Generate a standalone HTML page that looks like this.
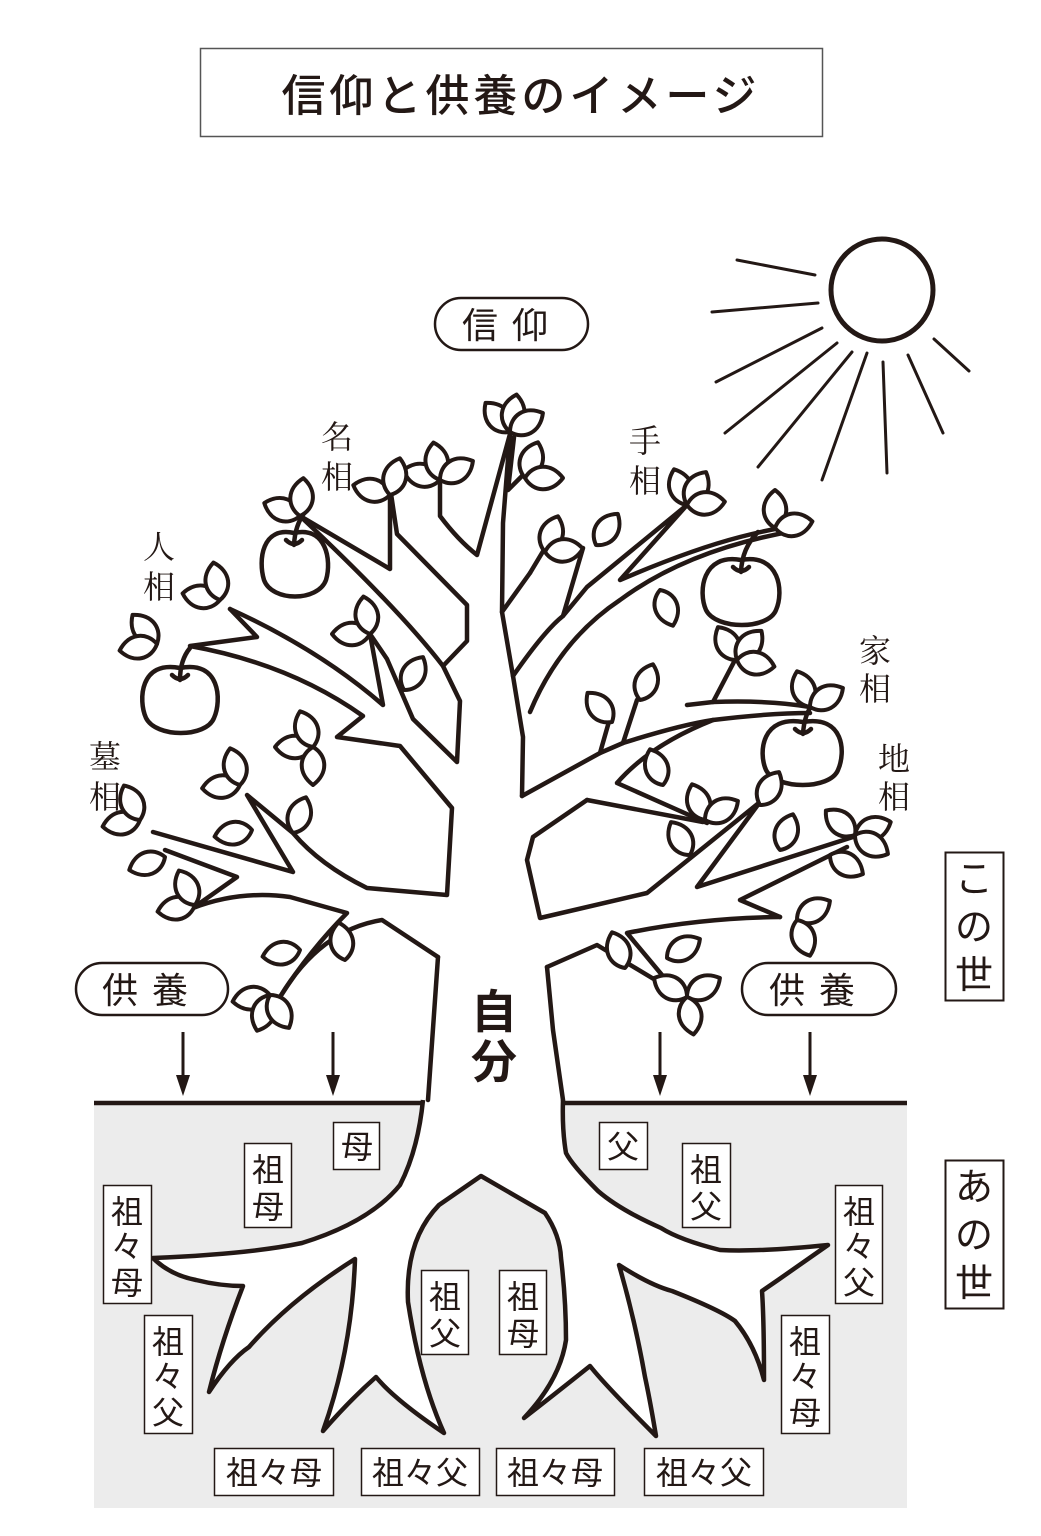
<!DOCTYPE html>
<html><head><meta charset="utf-8"><style>
html,body{margin:0;padding:0;background:#fff;}
svg{display:block;}
text{font-family:"Liberation Sans","Noto Sans CJK JP",sans-serif;fill:#231815;}
.s{font-family:"Liberation Serif","Noto Serif CJK SC",serif;}
</style></head><body>
<svg width="1041" height="1536" viewBox="0 0 1041 1536" xmlns="http://www.w3.org/2000/svg">
<defs>
<path id="lf" d="M0,0 C14,-8 16,-26 0,-38 C-16,-26 -14,-8 0,0Z" fill="#fff" stroke="#231815" stroke-width="4" stroke-linejoin="round"/>
</defs>
<rect x="200.5" y="48.5" width="622" height="88" fill="#fff" stroke="#555" stroke-width="1.5"/>
<text x="521" y="111" font-size="44" text-anchor="middle" letter-spacing="4" font-weight="500">信仰と供養のイメージ</text>

<g stroke="#231815" stroke-width="3" stroke-linecap="round" fill="none">
<circle cx="882" cy="290" r="51" stroke-width="5"/>
<line x1="737" y1="260" x2="815" y2="275"/>
<line x1="712" y1="312" x2="818" y2="303"/>
<line x1="716" y1="382" x2="822" y2="328"/>
<line x1="725" y1="433" x2="837" y2="343"/>
<line x1="758" y1="467" x2="852" y2="352"/>
<line x1="822" y1="480" x2="867" y2="353"/>
<line x1="887" y1="473" x2="883" y2="362"/>
<line x1="943" y1="433" x2="908" y2="355"/>
<line x1="969" y1="371" x2="934" y2="339"/>
</g>

<rect x="435" y="298" width="153" height="52" rx="26" fill="#fff" stroke="#231815" stroke-width="2.5"/>
<text x="512" y="338" font-size="36" text-anchor="middle" letter-spacing="14">信仰</text>

<g class="s" font-size="32" text-anchor="middle">
<text class="s" x="337" y="448">名</text><text class="s" x="337" y="488">相</text>
<text class="s" x="645" y="452">手</text><text class="s" x="645" y="492">相</text>
<text class="s" x="159" y="558">人</text><text class="s" x="159" y="598">相</text>
<text class="s" x="875" y="662">家</text><text class="s" x="875" y="700">相</text>
<text class="s" x="894" y="770">地</text><text class="s" x="894" y="808">相</text>
<text class="s" x="105" y="768">墓</text><text class="s" x="105" y="808">相</text>
</g>

<rect x="945.5" y="852.5" width="58" height="148" fill="#fff" stroke="#231815" stroke-width="2"/>
<text x="974" y="892" font-size="38" text-anchor="middle">こ</text>
<text x="974" y="940" font-size="38" text-anchor="middle">の</text>
<text x="974" y="988" font-size="38" text-anchor="middle">世</text>

<rect x="94" y="1103" width="813" height="405" fill="#ececec"/>
<rect x="945.5" y="1160.5" width="58" height="148" fill="#fff" stroke="#231815" stroke-width="2"/>
<text x="974" y="1200" font-size="38" text-anchor="middle">あ</text>
<text x="974" y="1248" font-size="38" text-anchor="middle">の</text>
<text x="974" y="1296" font-size="38" text-anchor="middle">世</text>

<line x1="94" y1="1103" x2="425" y2="1103" stroke="#231815" stroke-width="4.5"/>
<line x1="562" y1="1103" x2="907" y2="1103" stroke="#231815" stroke-width="4.5"/>

<path d="M423,1100 Q418,1150 400,1185 Q370,1222 302,1243 Q250,1254 153,1258 Q170,1275 196,1280 Q220,1286 243,1286 Q222,1340 209,1392 Q230,1360 249,1347 Q290,1300 355,1259 Q352,1350 323,1431 Q350,1400 376,1377 Q395,1400 444,1433 Q420,1380 408,1302 Q405,1240 439,1205 L481,1176 L545,1213 Q560,1235 561,1258 Q566,1300 566,1340 Q560,1380 524,1418 Q560,1390 590,1366 Q605,1385 656,1436 Q650,1400 645,1377 Q635,1320 619,1265 Q650,1285 672,1291 Q720,1310 735,1321 Q755,1345 764,1380 Q764,1320 762,1291 L778,1280 L828,1245 Q760,1252 720,1250 Q680,1240 661,1228 Q620,1210 598,1191 Q572,1165 566,1153 Q562,1130 563,1100 Z" fill="#fff" stroke="none"/>
<path d="M423,1100 Q418,1150 400,1185 Q370,1222 302,1243 Q250,1254 153,1258 Q170,1275 196,1280 Q220,1286 243,1286 Q222,1340 209,1392 Q230,1360 249,1347 Q290,1300 355,1259 Q352,1350 323,1431 Q350,1400 376,1377 Q395,1400 444,1433 Q420,1380 408,1302 Q405,1240 439,1205 L481,1176 L545,1213 Q560,1235 561,1258 Q566,1300 566,1340 Q560,1380 524,1418 Q560,1390 590,1366 Q605,1385 656,1436 Q650,1400 645,1377 Q635,1320 619,1265 Q650,1285 672,1291 Q720,1310 735,1321 Q755,1345 764,1380 Q764,1320 762,1291 L778,1280 L828,1245 Q760,1252 720,1250 Q680,1240 661,1228 Q620,1210 598,1191 Q572,1165 566,1153 Q562,1130 563,1100" fill="none" stroke="#231815" stroke-width="4.5" stroke-linejoin="round"/>

<g fill="none" stroke="#231815" stroke-width="4.5" stroke-linejoin="round" stroke-linecap="round">
<path d="M438,957 L428,1100"/>
<path d="M547,967 L553,1030 L563,1100"/>
<path d="M153,832 L293,872 L247,795 L293,833 Q320,865 367,888 L447,895 L452,808 L400,746 L337,737 L363,716 Q290,664 190,646 L257,637 L230,609"/>
<path d="M165,850 L237,877 L193,908 Q240,890 290,897 L347,913 Q310,950 280,997"/>
<path d="M280,997 Q320,930 382,920 L438,957"/>
<path d="M230,609 Q320,650 383,705 L370,634 L387,659 L413,719 L457,762 L460,701 L443,666 Q400,610 300,516"/>
<path d="M300,516 L390,569 L390,487 L397,534 L467,605 L467,641 L443,666"/>
<path d="M440,469 L440,516 Q458,540 477,555 L510,434"/>
<path d="M510,434 L503,523 L502,612 L530,573"/>
<path d="M514,437 L508,490 L528,470"/>
<path d="M502,612 L513,676 L523,737 L522,796"/>
<path d="M530,573 L545,548"/>
<path d="M513,676 Q545,630 563,616 L583,548"/>
<path d="M563,616 L587,587 L687,505 L620,580 Q690,550 740,537 Q775,528 800,525"/>
<path d="M800,530 Q690,548 620,600 Q560,640 530,712"/>
<path d="M522,796 L600,753 L610,718"/>
<path d="M600,753 L623,743 Q680,725 713,720 Q770,713 810,713"/>
<path d="M623,743 L637,700"/>
<path d="M687,705 L713,702 Q770,700 810,707"/>
<path d="M713,702 L735,660"/>
<path d="M713,720 Q650,745 617,783 L707,823"/>
<path d="M587,800 Q650,812 703,822"/>
<path d="M587,800 L533,837 L527,860 L540,918 L647,893 L760,802 L697,887 L853,837"/>
<path d="M847,847 L740,900 L780,917"/>
<path d="M780,917 Q700,918 627,933 L677,993"/>
<path d="M677,993 L597,945 L547,967"/>
</g>

<g fill="#fff" stroke="#231815" stroke-width="4.5" stroke-linecap="round">
<path d="M294,533 C262,526 258,560 264,580 C272,602 318,602 326,580 C332,560 326,526 294,533Z"/>
<path d="M286,540 Q294,548 302,540 M294,545 Q295,525 305,512" fill="none"/>
<path d="M180,668 C140,660 138,700 146,718 C156,738 206,738 214,718 C222,700 220,660 180,668Z"/>
<path d="M172,675 Q180,683 188,675 M180,680 Q180,660 190,648" fill="none"/>
<path d="M741,560 C702,553 698,592 706,610 C716,630 768,630 776,610 C784,592 780,553 741,560Z"/>
<path d="M733,567 Q741,575 749,567 M741,572 Q742,548 758,532" fill="none"/>
<path d="M803,722 C762,715 758,752 766,770 C776,790 830,790 838,770 C846,752 844,715 803,722Z"/>
<path d="M795,729 Q803,737 811,729 M803,734 Q804,718 810,708" fill="none"/>
</g>

<g>
<g transform="translate(510,432)"><use href="#lf" transform="rotate(-40)"/><use href="#lf" transform="rotate(10)"/><use href="#lf" transform="rotate(60)"/></g>
<g transform="translate(440,480)"><use href="#lf" transform="rotate(-75)"/><use href="#lf" transform="rotate(-10)"/><use href="#lf" transform="rotate(60)"/></g>
<g transform="translate(390,495)"><use href="#lf" transform="rotate(-75)"/><use href="#lf" transform="rotate(15)"/></g>
<g transform="translate(300,516)"><use href="#lf" transform="rotate(-70)"/><use href="#lf" transform="rotate(5)"/></g>
<g transform="translate(525,478)"><use href="#lf" transform="rotate(20)"/><use href="#lf" transform="rotate(90)"/></g>
<g transform="translate(545,552)"><use href="#lf" transform="rotate(20)"/><use href="#lf" transform="rotate(85)"/></g>
<g transform="translate(596,545)"><use href="#lf" transform="rotate(35)"/></g>
<g transform="translate(687,505)"><use href="#lf" transform="rotate(-20)"/><use href="#lf" transform="rotate(30)"/><use href="#lf" transform="rotate(85)"/></g>
<g transform="translate(660,590)"><use href="#lf" transform="rotate(160)"/></g>
<g transform="translate(775,528)"><use href="#lf" transform="rotate(0)"/><use href="#lf" transform="rotate(80)"/></g>
<g transform="translate(157,644)"><use href="#lf" transform="rotate(-40)"/><use href="#lf" transform="rotate(-100)"/></g>
<g transform="translate(220,600)"><use href="#lf" transform="rotate(-80)"/><use href="#lf" transform="rotate(-10)"/></g>
<g transform="translate(370,634)"><use href="#lf" transform="rotate(-90)"/><use href="#lf" transform="rotate(-10)"/></g>
<g transform="translate(404,690)"><use href="#lf" transform="rotate(30)"/></g>
<g transform="translate(313,747)"><use href="#lf" transform="rotate(-90)"/><use href="#lf" transform="rotate(180)"/><use href="#lf" transform="rotate(-20)"/></g>
<g transform="translate(140,820)"><use href="#lf" transform="rotate(-100)"/><use href="#lf" transform="rotate(-25)"/></g>
<g transform="translate(240,785)"><use href="#lf" transform="rotate(-95)"/><use href="#lf" transform="rotate(-15)"/></g>
<g transform="translate(252,830)"><use href="#lf" transform="rotate(-100)"/></g>
<g transform="translate(293,833)"><use href="#lf" transform="rotate(20)"/></g>
<g transform="translate(165,857)"><use href="#lf" transform="rotate(-110)"/></g>
<g transform="translate(195,905)"><use href="#lf" transform="rotate(-100)"/><use href="#lf" transform="rotate(-25)"/></g>
<g transform="translate(300,950)"><use href="#lf" transform="rotate(-100)"/></g>
<g transform="translate(345,960)"><use href="#lf" transform="rotate(-10)"/></g>
<g transform="translate(270,995)"><use href="#lf" transform="rotate(-100)"/><use href="#lf" transform="rotate(200)"/><use href="#lf" transform="rotate(150)"/></g>
<g transform="translate(612,722)"><use href="#lf" transform="rotate(-40)"/></g>
<g transform="translate(640,700)"><use href="#lf" transform="rotate(20)"/></g>
<g transform="translate(737,660)"><use href="#lf" transform="rotate(-30)"/><use href="#lf" transform="rotate(40)"/><use href="#lf" transform="rotate(100)"/></g>
<g transform="translate(810,707)"><use href="#lf" transform="rotate(-20)"/><use href="#lf" transform="rotate(60)"/></g>
<g transform="translate(663,785)"><use href="#lf" transform="rotate(-20)"/></g>
<g transform="translate(705,820)"><use href="#lf" transform="rotate(-20)"/><use href="#lf" transform="rotate(60)"/></g>
<g transform="translate(760,805)"><use href="#lf" transform="rotate(30)"/></g>
<g transform="translate(690,855)"><use href="#lf" transform="rotate(-30)"/></g>
<g transform="translate(780,850)"><use href="#lf" transform="rotate(20)"/></g>
<g transform="translate(855,835)"><use href="#lf" transform="rotate(-50)"/><use href="#lf" transform="rotate(70)"/><use href="#lf" transform="rotate(120)"/></g>
<g transform="translate(830,855)"><use href="#lf" transform="rotate(120)"/></g>
<g transform="translate(797,920)"><use href="#lf" transform="rotate(60)"/><use href="#lf" transform="rotate(160)"/></g>
<g transform="translate(625,968)"><use href="#lf" transform="rotate(-20)"/></g>
<g transform="translate(667,958)"><use href="#lf" transform="rotate(60)"/></g>
<g transform="translate(687,997)"><use href="#lf" transform="rotate(-60)"/><use href="#lf" transform="rotate(60)"/><use href="#lf" transform="rotate(170)"/></g>
</g>

<rect x="76" y="963" width="152" height="52" rx="26" fill="#fff" stroke="#231815" stroke-width="2.5"/>
<text x="152" y="1003" font-size="36" text-anchor="middle" letter-spacing="14">供養</text>
<rect x="742" y="963" width="154" height="52" rx="26" fill="#fff" stroke="#231815" stroke-width="2.5"/>
<text x="819" y="1003" font-size="36" text-anchor="middle" letter-spacing="14">供養</text>

<text x="494" y="1028" font-size="46" text-anchor="middle" font-weight="bold">自</text>
<text x="494" y="1078" font-size="46" text-anchor="middle" font-weight="bold">分</text>

<g stroke="#231815" stroke-width="3" fill="#231815">
<line x1="183" y1="1032" x2="183" y2="1080"/><path d="M176,1075 L190,1075 L183,1096Z" stroke="none"/>
<line x1="333" y1="1032" x2="333" y2="1080"/><path d="M326,1075 L340,1075 L333,1096Z" stroke="none"/>
<line x1="660" y1="1032" x2="660" y2="1080"/><path d="M653,1075 L667,1075 L660,1096Z" stroke="none"/>
<line x1="810" y1="1032" x2="810" y2="1080"/><path d="M803,1075 L817,1075 L810,1096Z" stroke="none"/>
</g>

<g fill="#fff" stroke="#231815" stroke-width="1.5">
<rect x="333.5" y="1122.5" width="46" height="47"/>
<rect x="244.5" y="1143.5" width="47" height="84"/>
<rect x="103.5" y="1185.5" width="48" height="118"/>
<rect x="144.5" y="1315.5" width="48" height="118"/>
<rect x="421.5" y="1270.5" width="47" height="84"/>
<rect x="499.5" y="1270.5" width="47" height="84"/>
<rect x="599.5" y="1122.5" width="48" height="47"/>
<rect x="682.5" y="1143.5" width="48" height="84"/>
<rect x="835.5" y="1185.5" width="47" height="118"/>
<rect x="781.5" y="1315.5" width="48" height="118"/>
<rect x="214.5" y="1448.5" width="119" height="47"/>
<rect x="361.5" y="1448.5" width="118" height="47"/>
<rect x="496.5" y="1448.5" width="118" height="47"/>
<rect x="644.5" y="1448.5" width="119" height="47"/>
</g>
<g font-size="32" text-anchor="middle">
<text x="357" y="1158">母</text>
<text x="268" y="1181">祖</text><text x="268" y="1218">母</text>
<text x="127" y="1223">祖</text><text x="127" y="1258">々</text><text x="127" y="1294">母</text>
<text x="168" y="1353">祖</text><text x="168" y="1388">々</text><text x="168" y="1424">父</text>
<text x="445" y="1308">祖</text><text x="445" y="1345">父</text>
<text x="523" y="1308">祖</text><text x="523" y="1345">母</text>
<text x="623" y="1158">父</text>
<text x="706" y="1181">祖</text><text x="706" y="1218">父</text>
<text x="859" y="1223">祖</text><text x="859" y="1258">々</text><text x="859" y="1294">父</text>
<text x="805" y="1353">祖</text><text x="805" y="1388">々</text><text x="805" y="1424">母</text>
<text x="274" y="1484">祖々母</text>
<text x="420" y="1484">祖々父</text>
<text x="555" y="1484">祖々母</text>
<text x="704" y="1484">祖々父</text>
</g>
</svg>
</body></html>
